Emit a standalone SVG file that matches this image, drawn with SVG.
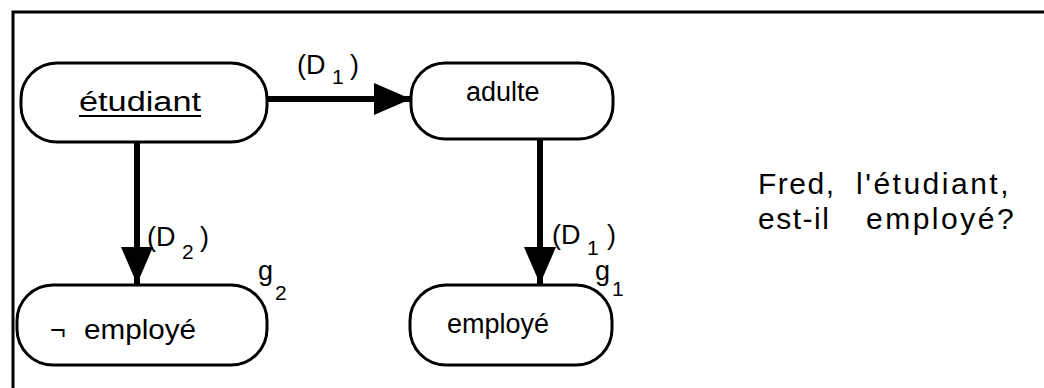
<svg xmlns="http://www.w3.org/2000/svg" width="1044" height="388" viewBox="0 0 1044 388">
<style>
.node{fill:#fff;stroke:#000;stroke-width:3}
.t{font-family:"Liberation Sans",Arial,sans-serif;font-size:27px;fill:#000}
.q{font-family:"Liberation Sans",Arial,sans-serif;font-size:30px;fill:#000;letter-spacing:1.5px}
.w{letter-spacing:2.5px}
.s{font-family:"Liberation Sans",Arial,sans-serif;font-size:21px;fill:#000}
.edge{stroke:#000;stroke-width:6;fill:none}
</style>
<defs>
<marker id="ah" markerUnits="userSpaceOnUse" markerWidth="40" markerHeight="34" refX="37" refY="16" orient="auto" viewBox="0 0 40 34">
<path d="M0,0 L37,16 L0,32 Z" fill="#000"/>
</marker>
</defs>
<rect width="1044" height="388" fill="#fff"/>
<g id="frame" stroke="#000" stroke-width="3" fill="none">
<path d="M13,388 L13,12 L1044,12"/>
</g>
<g id="connectors">
<line class="edge" x1="268" y1="99" x2="411" y2="99" marker-end="url(#ah)"/>
<line class="edge" x1="137" y1="143" x2="137" y2="284" marker-end="url(#ah)"/>
<line class="edge" x1="540" y1="140" x2="540" y2="284" marker-end="url(#ah)"/>
<text class="t" x="297" y="74">(D</text><text class="s" x="332" y="84">1</text><text class="t" x="350" y="74">)</text>
<text class="t" x="147" y="246">(D</text><text class="s" x="182" y="259">2</text><text class="t" x="200" y="246">)</text>
<text class="t" x="552" y="244">(D</text><text class="s" x="587" y="255">1</text><text class="t" x="607" y="244">)</text>
</g>
<g id="n-etudiant">
<rect class="node" x="21" y="63" width="246" height="79" rx="36"/>
<text class="t" x="79" y="111" textLength="122" lengthAdjust="spacingAndGlyphs">étudiant</text>
<line x1="79" y1="116" x2="201" y2="116" stroke="#000" stroke-width="2"/>
</g>
<g id="n-adulte">
<rect class="node" x="411" y="63" width="202" height="76" rx="34"/>
<text class="t" x="466" y="101">adulte</text>
</g>
<g id="n-non-employe">
<rect class="node" x="17" y="285" width="250" height="80" rx="36"/>
<text class="t" x="50" y="339">¬</text>
<text class="t" x="84" y="339" textLength="112" lengthAdjust="spacingAndGlyphs">employé</text>
<text class="t" x="258" y="280">g</text><text class="s" x="275" y="300">2</text>
</g>
<g id="n-employe">
<rect class="node" x="410" y="285" width="202" height="80" rx="36"/>
<text class="t" x="447" y="333">employé</text>
<text class="t" x="595" y="280">g</text><text class="s" x="612" y="296">1</text>
</g>
<g id="question">
<text class="q" x="758" y="194">Fred,</text>
<text class="q w" x="856" y="194">l'étudiant,</text>
<text class="q" x="758" y="229">est-il</text>
<text class="q w" x="866" y="229">employé?</text>
</g>
</svg>
